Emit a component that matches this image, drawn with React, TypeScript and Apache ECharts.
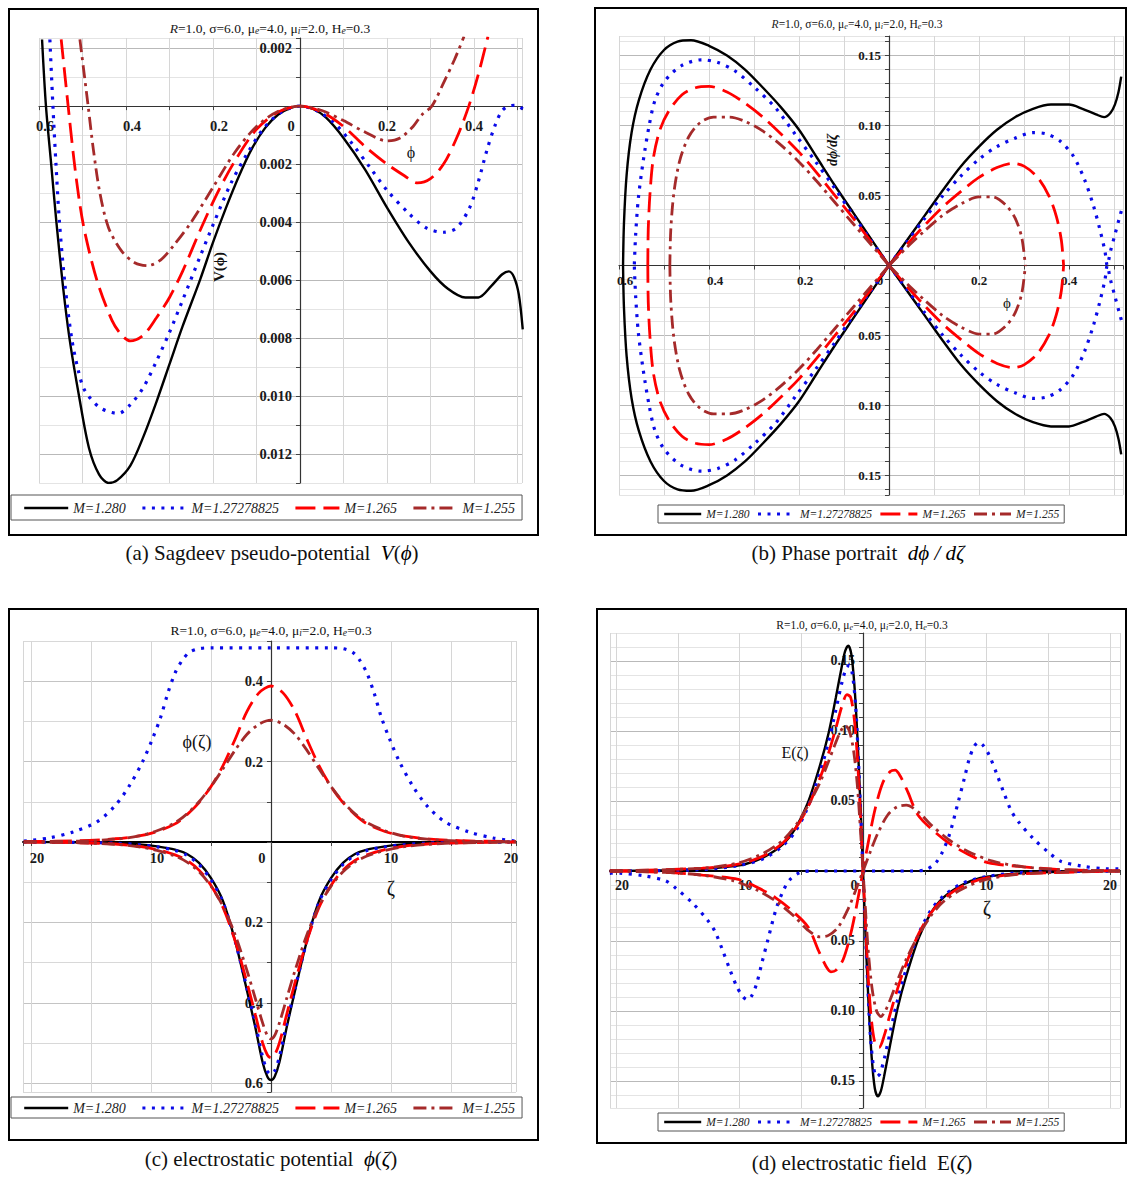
import React, { useEffect, useRef } from 'react';
import * as echarts from 'echarts';

const SERIF = "'Liberation Serif', 'Times New Roman', serif";
const NAMES = ['M=1.280', 'M=1.27278825', 'M=1.265', 'M=1.255'];

// ---------- (a) Sagdeev potential V(phi): [phi, V] ----------
const A_BLACK = [[-0.593,0.0023],[-0.584,0],[-0.572,-0.002],[-0.56,-0.004],[-0.545,-0.0062],[-0.53,-0.008],[-0.508,-0.01],[-0.485,-0.0118],[-0.462,-0.0127],[-0.44,-0.013],[-0.42,-0.0129],[-0.39,-0.0124],[-0.36,-0.0114],[-0.33,-0.0102],[-0.3,-0.0089],[-0.27,-0.0076],[-0.23,-0.006],[-0.2,-0.0047],[-0.17,-0.0035],[-0.14,-0.0024],[-0.11,-0.00145],[-0.08,-0.00075],[-0.05,-0.00029],[-0.02,-0.00005],[0,0],[0.03,-0.0001],[0.06,-0.0004],[0.1,-0.0011],[0.15,-0.0022],[0.2,-0.0035],[0.25,-0.0047],[0.3,-0.0057],[0.34,-0.0063],[0.38,-0.0066],[0.41,-0.0066],[0.44,-0.0062],[0.465,-0.0058],[0.48,-0.0057],[0.492,-0.0059],[0.503,-0.0065],[0.512,-0.0077]];
const A_BLUE = [[-0.575,0.0023],[-0.568,0],[-0.561,-0.002],[-0.553,-0.004],[-0.54,-0.0062],[-0.525,-0.008],[-0.51,-0.0091],[-0.495,-0.0098],[-0.46,-0.0104],[-0.418,-0.0106],[-0.39,-0.0103],[-0.36,-0.0097],[-0.33,-0.0088],[-0.3,-0.0078],[-0.27,-0.0067],[-0.23,-0.0052],[-0.2,-0.0041],[-0.16,-0.0027],[-0.12,-0.0016],[-0.08,-0.0007],[-0.04,-0.00018],[0,0],[0.04,-0.00017],[0.08,-0.0006],[0.12,-0.0013],[0.16,-0.0021],[0.2,-0.0029],[0.25,-0.0037],[0.29,-0.0042],[0.33,-0.00435],[0.36,-0.0042],[0.39,-0.0035],[0.41,-0.0026],[0.43,-0.0015],[0.45,-0.0006],[0.465,-0.00015],[0.48,0],[0.495,0.00003],[0.512,-0.0001]];
const A_RED = [[-0.549,0.0023],[-0.533,0],[-0.52,-0.0018],[-0.507,-0.0033],[-0.494,-0.0044],[-0.467,-0.006],[-0.432,-0.0074],[-0.41,-0.0079],[-0.39,-0.0081],[-0.36,-0.0079],[-0.33,-0.0073],[-0.3,-0.0066],[-0.27,-0.0057],[-0.23,-0.0043],[-0.19,-0.003],[-0.15,-0.0019],[-0.1,-0.0008],[-0.05,-0.0002],[0,0],[0.05,-0.0002],[0.1,-0.0007],[0.15,-0.0014],[0.2,-0.002],[0.24,-0.0024],[0.27,-0.00265],[0.3,-0.0025],[0.33,-0.002],[0.36,-0.0011],[0.388,0],[0.41,0.0011],[0.432,0.0024]];
const A_BROWN = [[-0.506,0.0023],[-0.487,0],[-0.475,-0.0015],[-0.46,-0.003],[-0.44,-0.0042],[-0.41,-0.005],[-0.38,-0.0054],[-0.35,-0.0055],[-0.32,-0.0053],[-0.29,-0.0048],[-0.25,-0.004],[-0.2,-0.0028],[-0.15,-0.0016],[-0.1,-0.0007],[-0.05,-0.00018],[0,0],[0.05,-0.00015],[0.1,-0.0005],[0.15,-0.0009],[0.2,-0.0012],[0.23,-0.0011],[0.26,-0.0007],[0.28,-0.0003],[0.303,0],[0.33,0.0008],[0.355,0.0016],[0.377,0.0024]];

// ---------- (b) phase portrait: [phi, dphi/dzeta] ----------
const B_BLACK_LU = [[0,0],[-0.04,0.019],[-0.08,0.038],[-0.12,0.057],[-0.16,0.077],[-0.2,0.097],[-0.24,0.113],[-0.28,0.127],[-0.32,0.14],[-0.36,0.15],[-0.4,0.157],[-0.44,0.161],[-0.47,0.16],[-0.5,0.154],[-0.53,0.14],[-0.556,0.118],[-0.572,0.095],[-0.583,0.065],[-0.589,0.03],[-0.591,0]];
const B_BLACK_LL = [[0,0],[-0.04,-0.019],[-0.08,-0.038],[-0.12,-0.057],[-0.16,-0.077],[-0.2,-0.097],[-0.24,-0.113],[-0.28,-0.127],[-0.32,-0.14],[-0.36,-0.15],[-0.4,-0.157],[-0.44,-0.161],[-0.47,-0.16],[-0.5,-0.154],[-0.53,-0.14],[-0.556,-0.118],[-0.572,-0.095],[-0.583,-0.065],[-0.589,-0.03],[-0.591,0]];
const B_BLACK_RU = [[0,0],[0.04,0.018],[0.08,0.036],[0.12,0.054],[0.16,0.071],[0.2,0.085],[0.24,0.097],[0.28,0.106],[0.32,0.112],[0.36,0.115],[0.4,0.115],[0.43,0.112],[0.46,0.108],[0.478,0.106],[0.492,0.109],[0.502,0.115],[0.51,0.124],[0.516,0.135]];
const B_BLACK_RL = [[0,0],[0.04,-0.018],[0.08,-0.036],[0.12,-0.054],[0.16,-0.071],[0.2,-0.085],[0.24,-0.097],[0.28,-0.106],[0.32,-0.112],[0.36,-0.115],[0.4,-0.115],[0.43,-0.112],[0.46,-0.108],[0.478,-0.106],[0.492,-0.109],[0.502,-0.115],[0.51,-0.124],[0.516,-0.135]];
const B_BLUE_LU = [[0,0],[-0.04,0.018],[-0.08,0.036],[-0.12,0.055],[-0.165,0.075],[-0.209,0.094],[-0.253,0.113],[-0.298,0.127],[-0.342,0.139],[-0.38,0.145],[-0.416,0.147],[-0.46,0.143],[-0.498,0.132],[-0.52,0.118],[-0.533,0.1],[-0.546,0.075],[-0.557,0.048],[-0.563,0.022],[-0.566,0]];
const B_BLUE_LL = [[0,0],[-0.04,-0.018],[-0.08,-0.036],[-0.12,-0.055],[-0.165,-0.075],[-0.209,-0.094],[-0.253,-0.113],[-0.298,-0.127],[-0.342,-0.139],[-0.38,-0.145],[-0.416,-0.147],[-0.46,-0.143],[-0.498,-0.132],[-0.52,-0.118],[-0.533,-0.1],[-0.546,-0.075],[-0.557,-0.048],[-0.563,-0.022],[-0.566,0]];
const B_BLUE_RU = [[0,0],[0.04,0.017],[0.08,0.034],[0.12,0.05],[0.16,0.064],[0.2,0.076],[0.24,0.085],[0.28,0.091],[0.32,0.095],[0.35,0.094],[0.38,0.089],[0.41,0.078],[0.435,0.061],[0.455,0.042],[0.47,0.024],[0.48,0.01],[0.485,0],[0.492,0.01],[0.502,0.022],[0.512,0.034],[0.52,0.043]];
const B_BLUE_RL = [[0,0],[0.04,-0.017],[0.08,-0.034],[0.12,-0.05],[0.16,-0.064],[0.2,-0.076],[0.24,-0.085],[0.28,-0.091],[0.32,-0.095],[0.35,-0.094],[0.38,-0.089],[0.41,-0.078],[0.435,-0.061],[0.455,-0.042],[0.47,-0.024],[0.48,-0.01],[0.485,0],[0.492,-0.01],[0.502,-0.022],[0.512,-0.034],[0.52,-0.043]];
const B_RED_LU = [[0,0],[-0.04,0.017],[-0.08,0.034],[-0.12,0.05],[-0.16,0.066],[-0.2,0.081],[-0.24,0.094],[-0.28,0.106],[-0.32,0.116],[-0.36,0.124],[-0.4,0.128],[-0.43,0.127],[-0.46,0.122],[-0.49,0.11],[-0.51,0.096],[-0.524,0.076],[-0.531,0.052],[-0.535,0.026],[-0.536,0]];
const B_RED_LL = [[0,0],[-0.04,-0.017],[-0.08,-0.034],[-0.12,-0.05],[-0.16,-0.066],[-0.2,-0.081],[-0.24,-0.094],[-0.28,-0.106],[-0.32,-0.116],[-0.36,-0.124],[-0.4,-0.128],[-0.43,-0.127],[-0.46,-0.122],[-0.49,-0.11],[-0.51,-0.096],[-0.524,-0.076],[-0.531,-0.052],[-0.535,-0.026],[-0.536,0]];
const B_RED_RU = [[0,0],[0.04,0.015],[0.08,0.029],[0.12,0.042],[0.16,0.053],[0.2,0.063],[0.24,0.07],[0.275,0.073],[0.3,0.071],[0.33,0.063],[0.355,0.05],[0.372,0.035],[0.383,0.018],[0.388,0]];
const B_RED_RL = [[0,0],[0.04,-0.015],[0.08,-0.029],[0.12,-0.042],[0.16,-0.053],[0.2,-0.063],[0.24,-0.07],[0.275,-0.073],[0.3,-0.071],[0.33,-0.063],[0.355,-0.05],[0.372,-0.035],[0.383,-0.018],[0.388,0]];
const B_BROWN_LU = [[0,0],[-0.04,0.015],[-0.08,0.03],[-0.12,0.045],[-0.16,0.06],[-0.2,0.074],[-0.24,0.086],[-0.28,0.096],[-0.32,0.103],[-0.355,0.106],[-0.39,0.106],[-0.42,0.102],[-0.445,0.092],[-0.465,0.075],[-0.478,0.052],[-0.485,0.025],[-0.487,0]];
const B_BROWN_LL = [[0,0],[-0.04,-0.015],[-0.08,-0.03],[-0.12,-0.045],[-0.16,-0.06],[-0.2,-0.074],[-0.24,-0.086],[-0.28,-0.096],[-0.32,-0.103],[-0.355,-0.106],[-0.39,-0.106],[-0.42,-0.102],[-0.445,-0.092],[-0.465,-0.075],[-0.478,-0.052],[-0.485,-0.025],[-0.487,0]];
const B_BROWN_RU = [[0,0],[0.04,0.013],[0.08,0.025],[0.12,0.036],[0.16,0.044],[0.2,0.049],[0.23,0.049],[0.26,0.043],[0.28,0.034],[0.295,0.02],[0.303,0]];
const B_BROWN_RL = [[0,0],[0.04,-0.013],[0.08,-0.025],[0.12,-0.036],[0.16,-0.044],[0.2,-0.049],[0.23,-0.049],[0.26,-0.043],[0.28,-0.034],[0.295,-0.02],[0.303,0]];

// ---------- (c) potential phi(zeta): [zeta, phi] ----------
const C_BLACK = [[-20.6,0],[-16,-0.001],[-13,-0.003],[-11,-0.006],[-9.5,-0.011],[-8,-0.019],[-7,-0.03],[-6,-0.052],[-5,-0.09],[-4,-0.147],[-3,-0.245],[-2,-0.37],[-1.3,-0.462],[-0.7,-0.548],[-0.3,-0.584],[0,-0.592],[0.3,-0.584],[0.7,-0.548],[1.3,-0.462],[2,-0.37],[3,-0.245],[4,-0.147],[5,-0.09],[6,-0.052],[7,-0.03],[8,-0.019],[9.5,-0.011],[11,-0.006],[13,-0.003],[16,-0.001],[20.4,0]];
const C_BLUE_NEG = [[-20.6,0],[-16,-0.001],[-13,-0.003],[-11,-0.007],[-9.5,-0.012],[-8,-0.021],[-7,-0.033],[-6,-0.056],[-5,-0.094],[-4,-0.15],[-3,-0.245],[-2,-0.365],[-1.3,-0.452],[-0.7,-0.535],[-0.3,-0.57],[0,-0.578],[0.3,-0.57],[0.7,-0.535],[1.3,-0.452],[2,-0.365],[3,-0.245],[4,-0.15],[5,-0.094],[6,-0.056],[7,-0.033],[8,-0.021],[9.5,-0.012],[11,-0.007],[13,-0.003],[16,-0.001],[20.4,0]];
const C_BLUE_POS = [[-20.6,0.002],[-18.5,0.01],[-16.5,0.025],[-14.5,0.05],[-13,0.09],[-11.8,0.14],[-10.7,0.2],[-9.9,0.255],[-9.2,0.31],[-8.6,0.37],[-8,0.42],[-7.4,0.452],[-6.8,0.472],[-6,0.481],[-5,0.483],[0,0.483],[5,0.483],[6,0.481],[6.8,0.472],[7.4,0.452],[8,0.42],[8.6,0.37],[9.2,0.31],[9.9,0.255],[10.7,0.2],[11.8,0.14],[13,0.09],[14.5,0.05],[16.5,0.025],[18.5,0.01],[20.4,0.002]];
const C_RED_POS = [[-20.6,0.001],[-16,0.003],[-13,0.008],[-11,0.015],[-9.5,0.026],[-8,0.045],[-7,0.068],[-6,0.098],[-5,0.138],[-4,0.19],[-3,0.255],[-2,0.325],[-1,0.371],[0,0.388],[1,0.371],[2,0.325],[3,0.255],[4,0.19],[5,0.138],[6,0.098],[7,0.068],[8,0.045],[9.5,0.026],[11,0.015],[13,0.008],[16,0.003],[20.4,0.001]];
const C_RED_NEG = [[-20.6,0],[-16,-0.002],[-13,-0.005],[-11,-0.011],[-9.5,-0.019],[-8,-0.032],[-7,-0.046],[-6,-0.07],[-5,-0.108],[-4,-0.163],[-3,-0.245],[-2,-0.35],[-1.3,-0.43],[-0.7,-0.5],[-0.3,-0.53],[0,-0.537],[0.3,-0.53],[0.7,-0.5],[1.3,-0.43],[2,-0.35],[3,-0.245],[4,-0.163],[5,-0.108],[6,-0.07],[7,-0.046],[8,-0.032],[9.5,-0.019],[11,-0.011],[13,-0.005],[16,-0.002],[20.4,0]];
const C_BROWN_POS = [[-20.6,0.001],[-16,0.002],[-13,0.007],[-11,0.015],[-9.5,0.028],[-8,0.048],[-7,0.07],[-6,0.1],[-5,0.138],[-4,0.182],[-3,0.228],[-2,0.268],[-1,0.293],[0,0.303],[1,0.293],[2,0.268],[3,0.228],[4,0.182],[5,0.138],[6,0.1],[7,0.07],[8,0.048],[9.5,0.028],[11,0.015],[13,0.007],[16,0.002],[20.4,0.001]];
const C_BROWN_NEG = [[-20.6,0],[-16,-0.002],[-13,-0.006],[-11,-0.012],[-9.5,-0.021],[-8,-0.035],[-7,-0.05],[-6,-0.074],[-5,-0.11],[-4,-0.16],[-3,-0.23],[-2,-0.32],[-1.3,-0.39],[-0.7,-0.45],[-0.3,-0.482],[0,-0.49],[0.3,-0.482],[0.7,-0.45],[1.3,-0.39],[2,-0.32],[3,-0.23],[4,-0.16],[5,-0.11],[6,-0.074],[7,-0.05],[8,-0.035],[9.5,-0.021],[11,-0.012],[13,-0.006],[16,-0.002],[20.4,0]];

// ---------- (d) field E(zeta): [zeta, E] ----------
const D_BLACK = [[-20.5,0],[-16,0.0005],[-13,0.0015],[-11,0.003],[-9.5,0.005],[-8,0.01],[-6.5,0.019],[-5.5,0.03],[-4.5,0.048],[-3.5,0.075],[-2.8,0.098],[-2.2,0.124],[-1.7,0.147],[-1.45,0.157],[-1.2,0.161],[-0.95,0.155],[-0.7,0.133],[-0.45,0.095],[-0.2,0.045],[0,0],[0.2,-0.045],[0.45,-0.095],[0.7,-0.133],[0.95,-0.155],[1.2,-0.161],[1.45,-0.157],[1.7,-0.147],[2.2,-0.124],[2.8,-0.098],[3.5,-0.075],[4.5,-0.048],[5.5,-0.03],[6.5,-0.019],[8,-0.01],[9.5,-0.005],[11,-0.003],[13,-0.0015],[16,-0.0005],[20.8,0]];
const D_BLUE_SPIKE = [[-20.5,0],[-13,0.001],[-10,0.004],[-8,0.009],[-6.5,0.018],[-5.5,0.028],[-4.5,0.045],[-3.5,0.07],[-2.8,0.092],[-2.2,0.115],[-1.7,0.135],[-1.35,0.145],[-1.1,0.147],[-0.85,0.14],[-0.6,0.118],[-0.4,0.085],[-0.2,0.043],[0,0],[0.2,-0.043],[0.4,-0.085],[0.6,-0.118],[0.85,-0.14],[1.1,-0.147],[1.35,-0.145],[1.7,-0.135],[2.2,-0.115],[2.8,-0.092],[3.5,-0.07],[4.5,-0.045],[5.5,-0.028],[6.5,-0.018],[8,-0.009],[10,-0.004],[13,-0.001],[20.8,0]];
const D_BLUE_FLAT = [[-20.5,-0.0015],[-19.7,-0.0016],[-17.7,-0.0035],[-16,-0.007],[-15.2,-0.012],[-13.8,-0.023],[-12.6,-0.035],[-12,-0.043],[-11.4,-0.056],[-10.8,-0.07],[-10.2,-0.083],[-9.7,-0.09],[-9.35,-0.092],[-9,-0.089],[-8.6,-0.08],[-8.2,-0.066],[-7.7,-0.049],[-7,-0.026],[-6.4,-0.013],[-5.9,-0.006],[-5.1,-0.001],[-4,0],[0,0],[4,0],[5.1,0.001],[5.9,0.006],[6.4,0.013],[7,0.026],[7.7,0.049],[8.2,0.066],[8.6,0.08],[9,0.089],[9.35,0.092],[9.7,0.09],[10.2,0.083],[10.8,0.07],[11.4,0.056],[12,0.043],[12.6,0.035],[13.8,0.023],[15.2,0.012],[16,0.007],[17.7,0.0035],[19.7,0.0016],[20.8,0.0015]];
const D_RED_SPIKE = [[-20.5,0],[-13,0.002],[-10,0.005],[-8,0.011],[-6.5,0.02],[-5.5,0.03],[-4.5,0.045],[-3.5,0.066],[-2.8,0.084],[-2.2,0.102],[-1.7,0.118],[-1.3,0.126],[-1,0.124],[-0.7,0.108],[-0.45,0.08],[-0.2,0.038],[0,0],[0.2,-0.038],[0.45,-0.08],[0.7,-0.108],[1,-0.124],[1.3,-0.126],[1.7,-0.118],[2.2,-0.102],[2.8,-0.084],[3.5,-0.066],[4.5,-0.045],[5.5,-0.03],[6.5,-0.02],[8,-0.011],[10,-0.005],[13,-0.002],[20.8,0]];
const D_RED_BUMP = [[-20.5,0],[-16,-0.001],[-13,-0.003],[-10.1,-0.006],[-8.5,-0.012],[-7.1,-0.019],[-5.8,-0.028],[-4.45,-0.04],[-3.6,-0.057],[-3,-0.068],[-2.6,-0.072],[-2.2,-0.071],[-1.6,-0.063],[-1,-0.045],[-0.5,-0.024],[0,0],[0.5,0.024],[1,0.045],[1.6,0.063],[2.2,0.071],[2.6,0.072],[3,0.068],[3.6,0.057],[4.45,0.04],[5.8,0.028],[7.1,0.019],[8.5,0.012],[10.1,0.006],[13,0.003],[16,0.001],[20.8,0]];
const D_BROWN_SPIKE = [[-20.5,0],[-13,0.002],[-10,0.006],[-8,0.013],[-6.5,0.022],[-5.5,0.032],[-4.5,0.046],[-3.5,0.063],[-2.8,0.078],[-2.2,0.092],[-1.8,0.1],[-1.45,0.104],[-1.1,0.1],[-0.75,0.085],[-0.45,0.06],[-0.2,0.028],[0,0],[0.2,-0.028],[0.45,-0.06],[0.75,-0.085],[1.1,-0.1],[1.45,-0.104],[1.8,-0.1],[2.2,-0.092],[2.8,-0.078],[3.5,-0.063],[4.5,-0.046],[5.5,-0.032],[6.5,-0.022],[8,-0.013],[10,-0.006],[13,-0.002],[20.8,0]];
const D_BROWN_BUMP = [[-20.5,0],[-16,-0.001],[-13,-0.003],[-10.5,-0.007],[-8.5,-0.014],[-7,-0.022],[-5.5,-0.033],[-4.5,-0.042],[-3.5,-0.047],[-2.8,-0.046],[-2,-0.04],[-1.2,-0.027],[-0.6,-0.014],[0,0],[0.6,0.014],[1.2,0.027],[2,0.04],[2.8,0.046],[3.5,0.047],[4.5,0.042],[5.5,0.033],[7,0.022],[8.5,0.014],[10.5,0.007],[13,0.003],[16,0.001],[20.8,0]];

const STY: any = {
  k: { name: NAMES[0], color: '#000000', width: 2.4, type: 'solid' },
  b: { name: NAMES[1], color: '#0a0ae8', width: 3.2, type: [3, 6.5] },
  r: { name: NAMES[2], color: '#ff0000', width: 2.8, type: [20, 8] },
  w: { name: NAMES[3], color: '#a52a2a', width: 2.8, type: [13, 5, 3, 5] },
};

// panel layout (grid box) and axis extents
const PANELS = [
  { grid: { left: 39, top: 38, width: 483, height: 445 }, x: [-0.6, 0.5103], y: [-0.013, 0.00235] },
  { grid: { left: 619, top: 36, width: 504, height: 459 }, x: [-0.6, 0.52], y: [-0.164, 0.164] },
  { grid: { left: 23, top: 641, width: 493, height: 451 }, x: [-20.67, 20.42], y: [-0.622, 0.5] },
  { grid: { left: 610, top: 633, width: 510, height: 475 }, x: [-20.49, 20.81], y: [-0.1693, 0.17] },
];

function line(key: string, gi: number, data: number[][]) {
  const s = STY[key];
  return {
    type: 'line', name: s.name, xAxisIndex: gi, yAxisIndex: gi, data,
    showSymbol: false, symbol: 'none', smooth: 0.3, silent: true, clip: true, z: 3,
    itemStyle: { color: s.color },
    lineStyle: { color: s.color, width: s.width, type: s.type, cap: 'butt' },
    emphasis: { disabled: true },
  };
}

function isMult(v: number, s: number) {
  const r = v / s;
  return Math.abs(r - Math.round(r)) < 1e-6;
}

function cycle(min: number, step: number, every: number, major: string, minor: string) {
  const r = min / step;
  const onTick = Math.abs(r - Math.round(r)) < 1e-6;
  const first = onTick ? Math.round(r) : Math.ceil(r) - 1;
  const out: string[] = [];
  for (let i = 0; i < every; i++) {
    const k = first + i;
    out.push(((k % every) + every) % every === 0 ? major : minor);
  }
  return out;
}

function xAx(gi: number, step: number, lab: number, digits: number, size: number, thick: boolean, margin: number) {
  const p = PANELS[gi];
  const [min, max] = p.x;
  const [ymin, ymax] = p.y;
  const off = -p.grid.height * (0 - ymin) / (ymax - ymin);
  const base = { fontFamily: SERIF, fontWeight: 'bold', fontSize: size, color: '#1a1a1a' };
  return {
    type: 'value', gridIndex: gi, min, max, minInterval: step, maxInterval: step, splitNumber: 10,
    position: 'bottom', offset: off,
    axisLine: { onZero: false, lineStyle: { color: thick ? '#000' : '#333', width: thick ? 2 : 1.2 } },
    axisTick: { show: true, length: 4, lineStyle: { color: '#444' } },
    axisLabel: {
      margin, ...base, hideOverlap: false,
      formatter: (v: number) => {
        if (!isMult(v, lab)) return '';
        if (Math.abs(v) < 1e-9) return '{z|0}';
        const t = Math.abs(v).toFixed(digits);
        return v < 0 ? '{n|' + t + '}' : t;
      },
      rich: {
        z: { ...base, padding: [0, 18, 0, 0] },
        n: { ...base, padding: [0, 0, 0, 12] },
      },
    },
    splitLine: { show: true, lineStyle: { color: '#d6d6d6', width: 1 } },
  };
}

function yAx(gi: number, step: number, lab: number, digits: number, size: number, every: number, major: string, minor: string) {
  const p = PANELS[gi];
  const [min, max] = p.y;
  const [xmin, xmax] = p.x;
  const off = -p.grid.width * (0 - xmin) / (xmax - xmin);
  return {
    type: 'value', gridIndex: gi, min, max, minInterval: step, maxInterval: step, splitNumber: 10,
    position: 'left', offset: off,
    axisLine: { onZero: false, lineStyle: { color: '#333', width: 1.2 } },
    axisTick: { show: true, length: 4, lineStyle: { color: '#444' } },
    axisLabel: {
      margin: 8, fontFamily: SERIF, fontWeight: 'bold', fontSize: size, color: '#1a1a1a', hideOverlap: false,
      formatter: (v: number) => {
        if (!isMult(v, lab) || Math.abs(v) < 1e-9) return '';
        return Math.abs(v).toFixed(digits);
      },
    },
    splitLine: { show: true, lineStyle: { color: cycle(min, step, every, major, minor), width: 1 } },
  };
}

function legendCfg(left: number, top: number, iw: number, ih: number, gap: number, fs: number, pad: number[]) {
  return {
    show: true, data: NAMES, left, top, orient: 'horizontal', itemWidth: iw, itemHeight: ih, itemGap: gap,
    padding: pad, borderColor: '#555', borderWidth: 1, backgroundColor: '#fff', selectedMode: false, z: 10,
    textStyle: { fontFamily: SERIF, fontStyle: 'italic', fontSize: fs, color: '#222' },
    itemStyle: { opacity: 0, borderWidth: 0 },
    lineStyle: { width: 'inherit' },
  };
}

function txt(x: number, y: number, text: string, o: any = {}) {
  return {
    type: 'text', x, y, rotation: o.rotation || 0, z: 20, silent: true,
    style: {
      text, fill: '#111', fontFamily: SERIF, fontSize: o.size || 14, fontWeight: o.weight || 'normal',
      fontStyle: o.style || 'normal', align: 'center', verticalAlign: 'middle', rich: o.rich,
    },
  };
}

function frame(x: number, y: number, w: number, h: number) {
  return { type: 'rect', z: 20, silent: true, shape: { x, y, width: w, height: h }, style: { fill: 'none', stroke: '#000', lineWidth: 2 } };
}

function titleRich(size: number) {
  return {
    i: { fontFamily: SERIF, fontSize: size, fontStyle: 'italic', fill: '#222' },
    s: { fontFamily: SERIF, fontSize: size * 0.72, fontStyle: 'italic', fill: '#222', padding: [5, 0, 0, 0] },
  };
}

function capRich(size: number) {
  return { i: { fontFamily: SERIF, fontSize: size, fontStyle: 'italic', fill: '#000' } };
}

function buildOption() {
  const MAJ = '#b9b9b9';
  const MIN = '#e4e4e4';
  const series = [
    line('k', 0, A_BLACK), line('b', 0, A_BLUE), line('r', 0, A_RED), line('w', 0, A_BROWN),
    line('k', 1, B_BLACK_LU), line('k', 1, B_BLACK_LL), line('k', 1, B_BLACK_RU), line('k', 1, B_BLACK_RL),
    line('b', 1, B_BLUE_LU), line('b', 1, B_BLUE_LL), line('b', 1, B_BLUE_RU), line('b', 1, B_BLUE_RL),
    line('r', 1, B_RED_LU), line('r', 1, B_RED_LL), line('r', 1, B_RED_RU), line('r', 1, B_RED_RL),
    line('w', 1, B_BROWN_LU), line('w', 1, B_BROWN_LL), line('w', 1, B_BROWN_RU), line('w', 1, B_BROWN_RL),
    line('k', 2, C_BLACK), line('b', 2, C_BLUE_NEG), line('b', 2, C_BLUE_POS),
    line('r', 2, C_RED_POS), line('r', 2, C_RED_NEG), line('w', 2, C_BROWN_POS), line('w', 2, C_BROWN_NEG),
    line('k', 3, D_BLACK), line('b', 3, D_BLUE_SPIKE), line('b', 3, D_BLUE_FLAT),
    line('r', 3, D_RED_SPIKE), line('r', 3, D_RED_BUMP), line('w', 3, D_BROWN_SPIKE), line('w', 3, D_BROWN_BUMP),
  ];
  return {
    animation: false,
    backgroundColor: '#ffffff',
    textStyle: { fontFamily: SERIF },
    grid: PANELS.map((p) => ({ ...p.grid, containLabel: false })),
    xAxis: [
      xAx(0, 0.1, 0.2, 1, 14.5, false, 12),
      xAx(1, 0.1, 0.2, 1, 13, false, 8),
      xAx(2, 5, 10, 0, 14.5, true, 9),
      xAx(3, 5, 10, 0, 14, true, 8),
    ],
    yAxis: [
      yAx(0, 0.001, 0.002, 3, 14.5, 2, MAJ, MIN),
      yAx(1, 0.01, 0.05, 2, 13, 5, MAJ, MIN),
      yAx(2, 0.1, 0.2, 1, 14.5, 2, '#c4c4c4', '#d8d8d8'),
      yAx(3, 0.01, 0.05, 2, 14, 5, MAJ, MIN),
    ],
    legend: [
      legendCfg(11, 495, 44, 14, 15, 14, [6, 7, 5, 12]),
      legendCfg(658, 505, 37, 11, 7, 11.5, [3, 5, 3, 5]),
      legendCfg(11, 1097, 44, 14, 15, 14, [4, 7, 3, 12]),
      legendCfg(658, 1113, 37, 11, 7, 11.5, [3, 5, 3, 5]),
    ],
    graphic: [
      frame(9, 9, 529, 526), frame(595, 8, 531, 527), frame(9, 609, 529, 531), frame(597, 609, 529, 534),
      txt(270, 28, '{i|R}=1.0, σ=6.0, μ{s|e}=4.0, μ{s|i}=2.0, H{s|e}=0.3', { size: 13.5, rich: titleRich(13.5) }),
      txt(857, 24, '{i|R}=1.0, σ=6.0, μ{s|e}=4.0, μ{s|i}=2.0, H{s|e}=0.3', { size: 11.5, rich: titleRich(11.5) }),
      txt(271, 630, 'R=1.0, σ=6.0, μ{s|e}=4.0, μ{s|i}=2.0, H{s|e}=0.3', { size: 13.5, rich: titleRich(13.5) }),
      txt(862, 625, 'R=1.0, σ=6.0, μ{s|e}=4.0, μ{s|i}=2.0, H{s|e}=0.3', { size: 11.5, rich: titleRich(11.5) }),
      txt(219, 267, 'V(ϕ)', { size: 15, weight: 'bold', rotation: Math.PI / 2 }),
      txt(411, 152, 'ϕ', { size: 16 }),
      txt(832, 150, 'dϕ/dζ', { size: 14, weight: 'bold', style: 'italic', rotation: Math.PI / 2 }),
      txt(1007, 303, 'ϕ', { size: 15 }),
      txt(197, 742, 'ϕ(ζ)', { size: 18 }),
      txt(391, 888, 'ζ', { size: 20 }),
      txt(795, 752, 'E(ζ)', { size: 16 }),
      txt(987, 908, 'ζ', { size: 20 }),
      txt(272, 553, '(a) Sagdeev pseudo-potential  {i|V}({i|ϕ})', { size: 21, rich: capRich(21) }),
      txt(858, 553, '(b) Phase portrait  {i|dϕ / dζ}', { size: 21, rich: capRich(21) }),
      txt(271, 1159, '(c) electrostatic potential  {i|ϕ}({i|ζ})', { size: 21, rich: capRich(21) }),
      txt(862, 1163, '(d) electrostatic field  E({i|ζ})', { size: 21, rich: capRich(21) }),
    ],
    series,
  };
}

export default function App() {
  const ref = useRef<HTMLDivElement>(null);
  useEffect(() => {
    const chart = echarts.init(ref.current as HTMLDivElement, null, { renderer: 'svg', width: 1128, height: 1180 });
    chart.setOption(buildOption() as any);
    return () => chart.dispose();
  }, []);
  return (
    <div
      ref={ref}
      style={{ position: 'absolute', left: 0, top: 0, width: 1128, height: 1180, background: '#fff' }}
    />
  );
}
